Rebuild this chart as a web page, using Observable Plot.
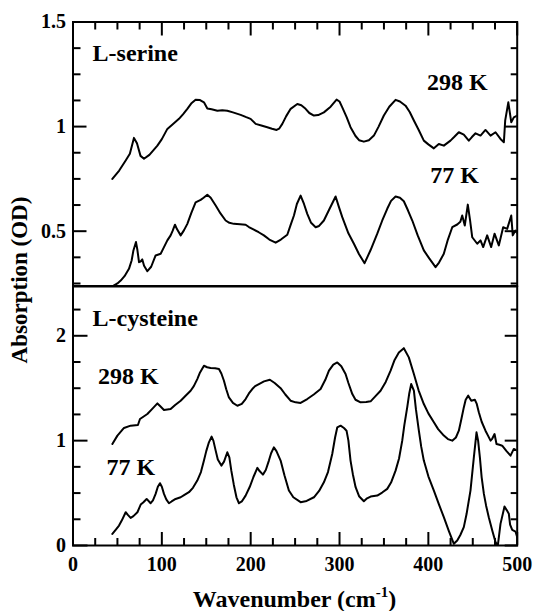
<!DOCTYPE html>
<html><head><meta charset="utf-8">
<script src="https://cdn.jsdelivr.net/npm/d3@7"></script>
<script src="https://cdn.jsdelivr.net/npm/@observablehq/plot@0.6"></script>
<style>
body{margin:0;background:#fff;}
#chart{position:relative;width:536px;height:611px;font-family:"Liberation Serif","Times New Roman",serif;font-weight:bold;color:#000;overflow:hidden;}
#chart svg{position:absolute;left:0;display:block;}
.ytitle{position:absolute;left:20px;top:280px;transform:translate(-50%,-50%) rotate(-90deg);white-space:nowrap;font-size:23px;line-height:24px;}
.xtitle{position:absolute;left:294.5px;top:587px;transform:translateX(-50%);white-space:nowrap;font-size:24px;line-height:24px;}
.xtitle sup{font-size:15px;line-height:0;vertical-align:baseline;position:relative;top:-10px;}
</style></head><body><div id="chart"></div>
<script>
// ---- data (wavenumber cm-1, absorption OD) ----
const serine298K = [[44.3,0.750],[52,0.79],[59.3,0.838],[64,0.87],[68.6,0.946],[72,0.92],[76,0.86],[79.9,0.846],[86,0.865],[95,0.909],[100,0.94],[106.2,0.989],[112,1.01],[119.3,1.037],[124,1.06],[128.7,1.085],[133,1.11],[138,1.128],[143,1.127],[147.4,1.116],[151.2,1.087],[156,1.083],[162.5,1.076],[168,1.078],[173.7,1.076],[180,1.068],[188.7,1.056],[195,1.045],[199.9,1.037],[205.6,1.013],[212,1.005],[218.7,0.997],[224,0.99],[229.2,0.984],[232,0.99],[235.6,1.013],[240,1.05],[245,1.085],[252.5,1.108],[257,1.102],[261.8,1.085],[266,1.065],[271.2,1.053],[276,1.055],[282.4,1.068],[290,1.095],[296.7,1.129],[300,1.12],[303.1,1.092],[308,1.045],[312.4,0.997],[318,0.955],[322,0.935],[327.4,0.928],[333,0.935],[338.7,0.957],[344,1.0],[349.9,1.053],[356,1.095],[363.1,1.128],[368,1.12],[374.3,1.1],[379,1.07],[383.7,1.029],[389,0.985],[394.9,0.933],[400,0.915],[406.2,0.896],[411.8,0.917],[417.4,0.909],[424.9,0.933],[429,0.95],[434.3,0.973],[439.9,0.962],[445.5,0.933],[449,0.95],[453.1,0.968],[458.7,0.957],[464.3,0.984],[470,0.957],[475.6,0.973],[481.2,0.941],[485,0.925],[486.5,1.03],[490,1.116],[493.3,1.021],[496.2,1.044],[500,1.053]];
const serine77K = [[44.3,0.236],[50,0.25],[53.7,0.264],[58,0.285],[63,0.32],[66,0.36],[68,0.408],[70.9,0.448],[72.5,0.41],[74.3,0.352],[76,0.355],[78,0.365],[80,0.335],[83.7,0.309],[88,0.33],[93,0.384],[98.7,0.392],[102,0.42],[106.2,0.456],[109.9,0.480],[112,0.5],[114.8,0.531],[117,0.51],[121.2,0.480],[125,0.505],[128.7,0.535],[133,0.585],[138,0.638],[143.7,0.650],[147,0.66],[151.2,0.674],[155,0.66],[160.6,0.623],[166,0.585],[171.8,0.551],[176,0.54],[181.1,0.535],[188,0.533],[194.3,0.531],[198,0.52],[203.6,0.507],[209,0.495],[214.9,0.480],[221,0.46],[228.1,0.445],[234,0.46],[241.2,0.483],[245,0.53],[248.7,0.575],[252,0.63],[256.2,0.670],[260,0.63],[263.7,0.583],[268,0.54],[273.1,0.519],[277,0.525],[282.4,0.551],[288,0.6],[295.6,0.666],[299,0.62],[303.1,0.567],[310,0.49],[316.2,0.440],[322,0.39],[328.2,0.347],[335,0.41],[342.5,0.488],[348,0.55],[353.7,0.607],[358,0.645],[363.1,0.666],[368,0.66],[372.4,0.643],[377,0.6],[381.9,0.551],[388,0.48],[394.9,0.408],[401,0.37],[408.1,0.328],[412,0.35],[417.4,0.392],[422,0.46],[426.9,0.519],[432.5,0.532],[436,0.545],[438.1,0.575],[441,0.527],[444.4,0.627],[447,0.55],[449.4,0.471],[455,0.440],[458.7,0.456],[461.7,0.424],[466.2,0.480],[470.7,0.424],[474.5,0.488],[479.3,0.432],[484.2,0.519],[488.7,0.511],[493.3,0.575],[495,0.480],[498,0.503],[500,0.49]];
const cysteine298K = [[44.3,0.968],[50,1.048],[57.4,1.121],[64.9,1.143],[73.1,1.149],[75.4,1.206],[83.7,1.254],[90,1.31],[95,1.355],[98,1.33],[102.4,1.292],[109.9,1.301],[115,1.34],[121.2,1.381],[127,1.43],[132.4,1.476],[136,1.52],[139.9,1.587],[143,1.65],[147.4,1.714],[151,1.70],[154.9,1.692],[160,1.69],[164.3,1.683],[167,1.64],[169.9,1.571],[172.5,1.49],[175.5,1.412],[180,1.36],[185,1.333],[190,1.35],[194.3,1.397],[198,1.45],[201.8,1.492],[205,1.52],[209.3,1.540],[215,1.565],[221.6,1.581],[227,1.55],[233.7,1.50],[239,1.44],[244.9,1.381],[250.6,1.365],[256.2,1.36],[263.7,1.397],[271,1.44],[278.7,1.492],[284,1.58],[288.1,1.667],[293,1.725],[297.5,1.746],[302,1.71],[306.8,1.635],[310,1.55],[314.4,1.444],[318,1.39],[323.7,1.365],[330,1.368],[335,1.375],[340,1.42],[346.2,1.476],[352,1.56],[357.5,1.667],[362,1.77],[366.8,1.841],[372.4,1.882],[378,1.794],[383.7,1.635],[389,1.48],[394.9,1.349],[400,1.26],[406.2,1.175],[411,1.11],[417.4,1.048],[422,1.015],[426.9,1.0],[431,1.03],[434.3,1.095],[437,1.2],[439.9,1.317],[442,1.39],[444.9,1.429],[448.3,1.381],[452.3,1.390],[454.5,1.35],[456.8,1.270],[460,1.18],[464.3,1.095],[467,1.05],[470,1.0],[472,1.02],[474.5,1.063],[476.7,0.968],[480,0.96],[483.1,0.952],[488,0.9],[492.5,0.857],[496.2,0.921],[500,0.905]];
const cysteine77K = [[44.3,0.111],[48,0.15],[51.8,0.190],[55,0.24],[59.3,0.317],[62,0.29],[64.9,0.263],[68,0.28],[72.5,0.317],[76.2,0.390],[79,0.41],[82.9,0.444],[87.4,0.403],[90,0.43],[93,0.492],[95.5,0.56],[97.9,0.594],[100,0.56],[102.4,0.492],[105,0.44],[108,0.403],[111,0.42],[115.5,0.444],[121.2,0.460],[125,0.48],[130.5,0.508],[135,0.55],[139.9,0.619],[144,0.70],[147.4,0.810],[150,0.90],[153,0.984],[156,1.038],[158,1.0],[160.6,0.905],[163,0.82],[167,0.762],[170,0.80],[173.7,0.889],[176,0.84],[178.2,0.714],[181,0.58],[184,0.46],[186.8,0.403],[190,0.42],[194.3,0.476],[199,0.56],[203,0.651],[207.5,0.740],[210,0.71],[213.8,0.676],[217,0.72],[220.5,0.810],[223,0.88],[226.1,0.936],[229,0.90],[233.7,0.810],[238,0.67],[243,0.524],[248,0.46],[256.2,0.413],[263,0.425],[271.2,0.460],[277,0.52],[282.4,0.603],[287,0.70],[291.8,0.873],[295,1.03],[297.5,1.127],[301.2,1.143],[305,1.12],[307.9,1.095],[310,1.0],[312.4,0.810],[315,0.68],[318.1,0.556],[322,0.47],[327.4,0.422],[331,0.45],[335,0.467],[342.5,0.476],[348,0.505],[353.7,0.540],[358,0.6],[363.1,0.714],[367,0.83],[370.6,1.0],[373,1.15],[376.2,1.317],[378.5,1.45],[380.7,1.540],[383.7,1.476],[386,1.3],[389.3,1.095],[392,0.94],[394.9,0.810],[400,0.66],[406.2,0.524],[412,0.39],[417.4,0.270],[423,0.14],[428.7,0.016],[432.5,0.048],[436,0.1],[439.9,0.175],[443,0.3],[447.4,0.524],[451.2,0.841],[454.2,1.079],[456,1.0],[458,0.841],[460,0.65],[462.5,0.492],[465,0.38],[468,0.270],[472,0.14],[475.6,0.032],[478.2,0.0],[481.2,0.206],[485.7,0.371],[488,0.34],[490.6,0.302],[492,0.2],[494.4,0.149],[498.1,0.133],[500,0.079]];

// ---- ticks and labels ----
const xMajorTicks = [0, 100, 200, 300, 400, 500];
const xMinorTicks = [25, 50, 75, 125, 150, 175, 225, 250, 275, 325, 350, 375, 425, 450, 475];
const serineMajorTicks = [0.5, 1, 1.5];
const serineMinorTicks = [0.25, 0.375, 0.625, 0.75, 0.875, 1.125, 1.25, 1.375];
const cysteineMajorTicks = [0, 1, 2];
const cysteineMinorTicks = [0.25, 0.5, 0.75, 1.25, 1.5, 1.75, 2.25];
const serineName = ["L-serine"], serineNameX = [22], serineNameY = [1.35];
const serineTemps = ["298 K", "77 K"], serineTempX = [432.5, 429.5], serineTempY = [1.21, 0.766];
const cysteineName = ["L-cysteine"], cysteineNameX = [22], cysteineNameY = [2.17];
const cysteineTemps = ["298 K", "77 K"], cysteineTempX = [62.3, 65], cysteineTempY = [1.61, 0.746];
const yTitle = "Absorption (OD)";
const xTitle = "Wavenumber (cm";
const xTitleSup = "-1";

const fontFamily = '"Liberation Serif", "Times New Roman", serif';
const baseStyle = {fontFamily, fontWeight: "bold", fontSize: "20px", color: "black", background: "transparent", overflow: "visible"};
const W = 536, ML = 72.5, MR = 19.3;
const lineOpts = {x: d => d[0], y: d => d[1], stroke: "black", strokeWidth: 2, clip: true};
const tickAx = (fn, opts) => fn({tickFormat: () => "", label: null, strokeWidth: 2, ...opts});

const topPlot = Plot.plot({
  width: W, height: 287, marginTop: 21.5, marginBottom: 1.5, marginLeft: ML, marginRight: MR,
  x: {domain: [0, 500]},
  y: {domain: [0.238, 1.5]},
  style: baseStyle,
  marks: [
    Plot.line(serine298K, lineOpts),
    Plot.line(serine77K, lineOpts),
    Plot.axisY({ticks: serineMajorTicks, tickSize: 0, tickPadding: 7, tickFormat: d => String(d), label: null, fontSize: 20}),
    tickAx(Plot.axisY, {anchor: "left", ticks: serineMinorTicks, tickSize: -8}),
    tickAx(Plot.axisY, {anchor: "left", ticks: serineMajorTicks, tickSize: -14}),
    tickAx(Plot.axisY, {anchor: "right", ticks: serineMinorTicks, tickSize: -7}),
    tickAx(Plot.axisY, {anchor: "right", ticks: serineMajorTicks, tickSize: -13}),
    tickAx(Plot.axisX, {anchor: "top", ticks: xMinorTicks, tickSize: -7}),
    tickAx(Plot.axisX, {anchor: "top", ticks: xMajorTicks, tickSize: -13}),
    Plot.text(serineName, {x: (d, i) => serineNameX[i], y: (d, i) => serineNameY[i], text: d => d, textAnchor: "start", fontSize: 24, fontWeight: "bold", fill: "black"}),
    Plot.text(serineTemps, {x: (d, i) => serineTempX[i], y: (d, i) => serineTempY[i], text: d => d, textAnchor: "middle", fontSize: 24, fontWeight: "bold", fill: "black"}),
    Plot.frame({stroke: "black", strokeWidth: 2})
  ]
});

const bottomPlot = Plot.plot({
  width: W, height: 325, marginTop: 0, marginBottom: 66, marginLeft: ML, marginRight: MR,
  x: {domain: [0, 500]},
  y: {domain: [0, 2.47]},
  style: baseStyle,
  marks: [
    Plot.line(cysteine298K, lineOpts),
    Plot.line(cysteine77K, lineOpts),
    Plot.axisY({ticks: cysteineMajorTicks, tickSize: 0, tickPadding: 7, tickFormat: d => String(d), label: null, fontSize: 20}),
    Plot.axisX({ticks: xMajorTicks, tickSize: 0, tickPadding: 11, tickFormat: d => String(d), label: null, fontSize: 20}),
    tickAx(Plot.axisY, {anchor: "left", ticks: cysteineMinorTicks, tickSize: -8}),
    tickAx(Plot.axisY, {anchor: "left", ticks: cysteineMajorTicks, tickSize: -15}),
    tickAx(Plot.axisY, {anchor: "right", ticks: cysteineMinorTicks, tickSize: -7}),
    tickAx(Plot.axisY, {anchor: "right", ticks: cysteineMajorTicks, tickSize: -13}),
    tickAx(Plot.axisX, {anchor: "bottom", ticks: xMinorTicks, tickSize: -7}),
    tickAx(Plot.axisX, {anchor: "bottom", ticks: xMajorTicks, tickSize: -13}),
    Plot.text(cysteineName, {x: (d, i) => cysteineNameX[i], y: (d, i) => cysteineNameY[i], text: d => d, textAnchor: "start", fontSize: 24, fontWeight: "bold", fill: "black"}),
    Plot.text(cysteineTemps, {x: (d, i) => cysteineTempX[i], y: (d, i) => cysteineTempY[i], text: d => d, textAnchor: "middle", fontSize: 24, fontWeight: "bold", fill: "black"}),
    Plot.frame({stroke: "black", strokeWidth: 2})
  ]
});

const chart = document.getElementById("chart");
topPlot.style.top = "0px";
bottomPlot.style.top = "286px";
chart.appendChild(topPlot);
chart.appendChild(bottomPlot);
const yt = document.createElement("div");
yt.className = "ytitle";
yt.textContent = yTitle;
chart.appendChild(yt);
const xt = document.createElement("div");
xt.className = "xtitle";
xt.textContent = xTitle;
const sup = document.createElement("sup");
sup.textContent = xTitleSup;
xt.appendChild(sup);
xt.appendChild(document.createTextNode(")"));
chart.appendChild(xt);
</script></body></html>
